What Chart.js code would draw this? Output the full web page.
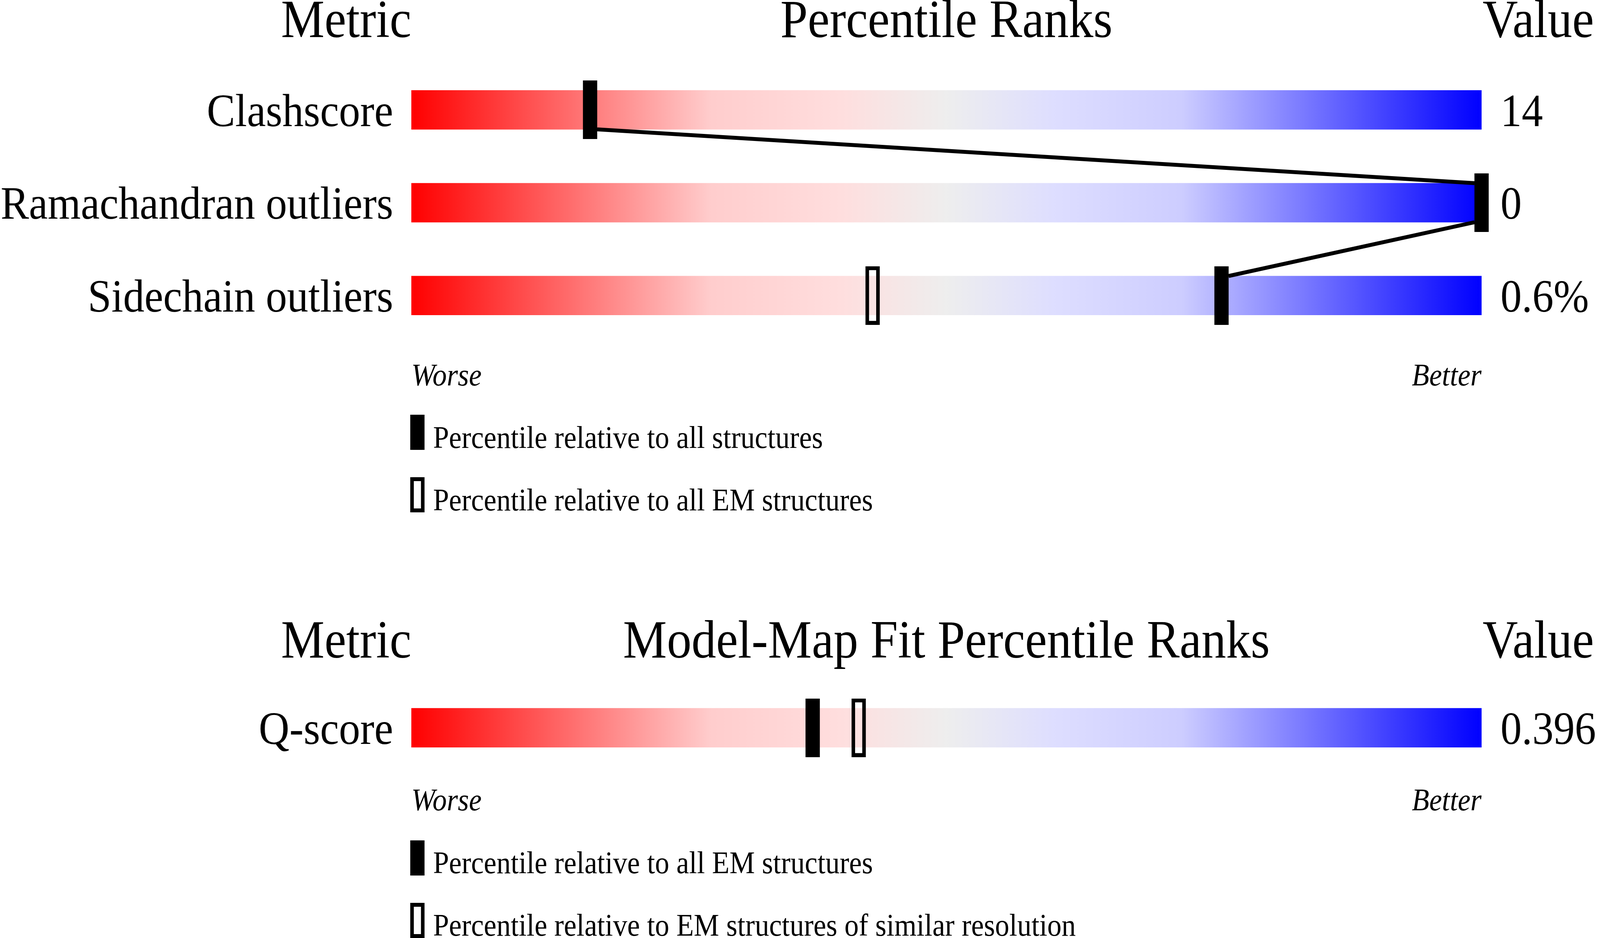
<!DOCTYPE html>
<html>
<head>
<meta charset="utf-8">
<title>Percentile ranks</title>
<script src="https://cdn.jsdelivr.net/npm/chart.js@4.4.1/dist/chart.umd.min.js"></script>
<style>
  html, body { margin: 0; padding: 0; background: #fff; overflow: hidden; }
  #page { position: relative; width: 4485px; height: 2402px; transform-origin: 0 0; font-family: 'Liberation Serif', 'Times New Roman', serif; color: #000; }
  canvas { position: absolute; left: 0; }
  .txt { position: absolute; white-space: nowrap; line-height: 1; }
  .swatch { position: absolute; width: 40px; height: 90px; box-sizing: border-box; }
  .solid { background: #000; }
  .hollow { border: 10px solid #000; }
</style>
</head>
<body>
<div id="page">
  <canvas id="validation" width="4485" height="1000" style="top:0px"></canvas>
  <canvas id="fit" width="4485" height="600" style="top:1500px"></canvas>
</div>
<script>
// validation metrics
const metrics = ['Clashscore', 'Ramachandran outliers', 'Sidechain outliers']
const metricValues = ['14', '0', '0.6%']
const pctAllStructures = [16.7, 100, 75.7]
const pctAllEM = [null, null, 43.1]

// model-map fit
const fitMetrics = ['Q-score']
const fitValues = ['0.396']
const fitPctAllEM = [37.5]
const fitPctSimilarRes = [41.8]

const track = [0, 100]

const gradientStops = [
    [0.00, 'rgb(255,0,0)'],
    [0.28, 'rgb(255,205,205)'],
    [0.40, 'rgb(255,222,222)'],
    [0.50, 'rgb(238,238,238)'],
    [0.60, 'rgb(222,222,255)'],
    [0.72, 'rgb(205,205,255)'],
    [1.00, 'rgb(0,0,255)']
]

const page = document.getElementById('page')
const serif = "'Liberation Serif', 'Times New Roman', serif"

// the browser window may be narrower than the 4485px design, squeeze to fit
const sx = Math.min(1, window.innerWidth / 4485)
page.style.transform = 'scale(' + sx + ', 1)'

function put(text, x, baseline, size, align, italic) {
    const el = document.createElement('div')
    el.className = 'txt'
    el.textContent = text
    el.style.fontSize = size + 'px'
    // line-height 1 puts the baseline 0.8375em below the top for this font
    el.style.top = (baseline - 0.8375 * size) + 'px'
    if (italic) el.style.fontStyle = 'italic'
    if (align === 'right') {
        el.style.right = (4485 - x) + 'px'
    } else if (align === 'center') {
        el.style.left = x + 'px'
        el.style.transform = 'translateX(-50%)'
    } else {
        el.style.left = x + 'px'
    }
    page.appendChild(el)
}

function swatch(kind, x, top) {
    const el = document.createElement('div')
    el.className = 'swatch ' + kind
    el.style.left = x + 'px'
    el.style.top = top + 'px'
    page.appendChild(el)
}

function markerImage(hollow) {
    const c = document.createElement('canvas')
    c.width = 40
    c.height = 150
    const g = c.getContext('2d')
    g.fillStyle = '#000'
    g.strokeStyle = '#000'
    if (hollow) {
        g.lineWidth = 10
        g.strokeRect(5, 5, 30, 140)
    } else {
        g.fillRect(0, 0, 40, 150)
    }
    return c
}
const solidMarker = markerImage(false)
const hollowMarker = markerImage(true)

function barGradient(ctx) {
    const area = ctx.chart.chartArea
    if (!area) return '#eee'
    const g = ctx.chart.ctx.createLinearGradient(area.left, 0, area.right, 0)
    gradientStops.forEach(([o, c]) => g.addColorStop(o, c))
    return g
}

// lines joining the solid markers of neighbouring rows, edge to edge
const linkPlugin = {
    id: 'links',
    afterDatasetsDraw(chart, args, opts) {
        const pts = chart.getDatasetMeta(opts.dataset).data.filter(p => !p.skip)
        const ctx = chart.ctx
        ctx.save()
        ctx.strokeStyle = '#000'
        ctx.lineWidth = 10
        for (let i = 0; i + 1 < pts.length; i++) {
            const a = pts[i], b = pts[i + 1]
            const dir = a.x < b.x ? 1 : -1
            ctx.beginPath()
            ctx.moveTo(a.x + dir * 20, a.y + 50)
            ctx.lineTo(b.x - dir * 20, b.y - 50)
            ctx.stroke()
        }
        ctx.restore()
    }
}

function points(labels, values) {
    return labels.map((l, i) => ({ x: values[i] === null ? NaN : values[i], y: l }))
}

const tickFont = { family: serif, size: 119 }

function makeChart(id, labels, valueLabels, solidPct, hollowPct, padTop, padBottom) {
    return new Chart(document.getElementById(id), {
        type: 'bar',
        data: {
            labels: labels,
            datasets: [
                {
                    type: 'line',
                    indexAxis: 'y',
                    data: points(labels, solidPct),
                    showLine: false,
                    pointStyle: solidMarker,
                    pointRadius: 5,
                    clip: false,
                    yAxisID: 'y',
                    order: 0
                },
                {
                    type: 'line',
                    indexAxis: 'y',
                    data: points(labels, hollowPct),
                    showLine: false,
                    pointStyle: hollowMarker,
                    pointRadius: 5,
                    clip: false,
                    yAxisID: 'y',
                    order: 1
                },
                {
                    type: 'bar',
                    data: labels.map(() => track),
                    backgroundColor: barGradient,
                    borderWidth: 0,
                    barThickness: 100,
                    yAxisID: 'y',
                    order: 10
                }
            ]
        },
        options: {
            indexAxis: 'y',
            responsive: false,
            animation: false,
            devicePixelRatio: 1,
            layout: { padding: { top: padTop, bottom: padBottom, left: 0, right: 0 } },
            scales: {
                x: { type: 'linear', min: 0, max: 100, display: false },
                y: {
                    type: 'category',
                    position: 'left',
                    offset: true,
                    grid: { display: false, drawTicks: false },
                    border: { display: false },
                    ticks: { font: tickFont, color: '#000', padding: 51, labelOffset: 10 },
                    afterFit: s => { s.width = 1153 }
                },
                y2: {
                    type: 'category',
                    labels: valueLabels,
                    position: 'right',
                    offset: true,
                    grid: { display: false, drawTicks: false },
                    border: { display: false },
                    ticks: { font: tickFont, color: '#000', padding: 53, labelOffset: 10 },
                    afterFit: s => { s.width = 332 }
                }
            },
            plugins: {
                legend: { display: false },
                tooltip: { enabled: false },
                links: { dataset: 0 }
            }
        },
        plugins: [linkPlugin]
    })
}

makeChart('validation', metrics, metricValues, pctAllStructures, pctAllEM, 162.5, 90.5)
makeChart('fit', fitMetrics, fitValues, fitPctAllEM, fitPctSimilarRes, 251.5, 99.5)

// headers, ends of the scale and legends
put('Metric', 1153, 96, 137, 'right')
put('Percentile Ranks', 2653, 96, 138, 'center')
put('Value', 4156, 96, 137, 'left')
put('Worse', 1153, 987, 80, 'left', true)
put('Better', 4153, 987, 80, 'right', true)
swatch('solid', 1150, 1062)
put('Percentile relative to all structures', 1214, 1147, 80, 'left')
swatch('hollow', 1150, 1222)
put('Percentile relative to all EM structures', 1214, 1307, 80, 'left')

put('Metric', 1153, 1685, 137, 'right')
put('Model-Map Fit Percentile Ranks', 2653, 1685, 138, 'center')
put('Value', 4156, 1685, 137, 'left')
put('Worse', 1153, 2075, 80, 'left', true)
put('Better', 4153, 2075, 80, 'right', true)
swatch('solid', 1150, 2152)
put('Percentile relative to all EM structures', 1214, 2236, 80, 'left')
swatch('hollow', 1150, 2312)
put('Percentile relative to EM structures of similar resolution', 1214, 2396, 80, 'left')
</script>
</body>
</html>
